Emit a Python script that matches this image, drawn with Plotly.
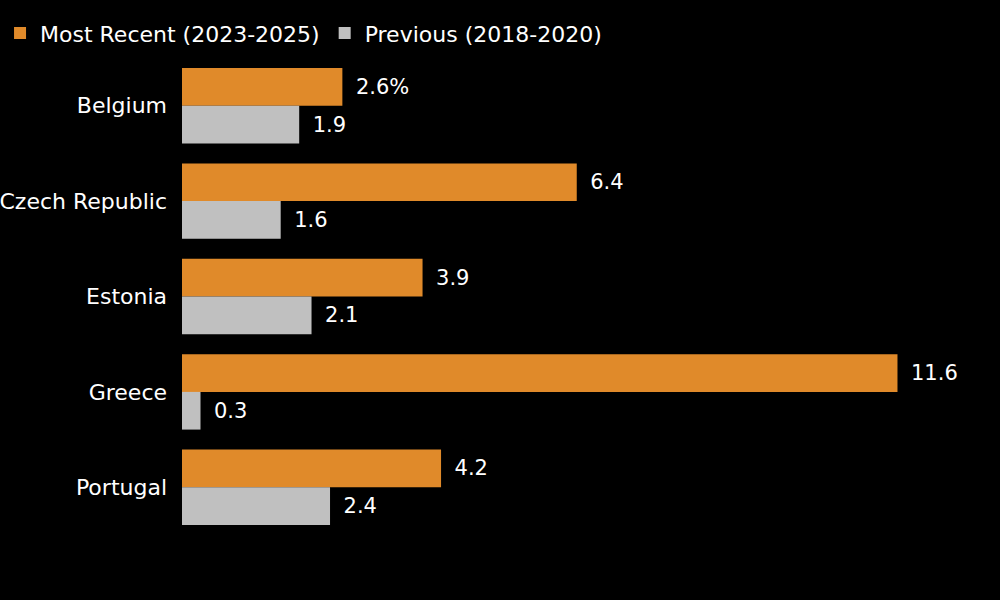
import plotly.graph_objects as go

# -------------------------------
# Data
# -------------------------------
countries = ["Belgium", "Czech Republic", "Estonia", "Greece", "Portugal"]
recent = [2.6, 6.4, 3.9, 11.6, 4.2]
previous = [1.9, 1.6, 2.1, 0.3, 2.4]

ORANGE = "#e08a2a"
GRAY = "#c0c0c0"
FONT = "DejaVu Sans"

recent_text = [f"{v}%" if i == 0 else f"{v}" for i, v in enumerate(recent)]
previous_text = [f"{v}" for v in previous]

# -------------------------------
# Bars
# -------------------------------
fig = go.Figure()
for name, vals, labels, color in [
    ("Most Recent (2023-2025)", recent, recent_text, ORANGE),
    ("Previous (2018-2020)", previous, previous_text, GRAY),
]:
    fig.add_trace(go.Bar(
        y=countries, x=vals, orientation="h",
        name=name,
        marker=dict(color=color, line=dict(width=0)),
        text=labels, texttemplate="\u2002%{text}", textposition="outside",
        textfont=dict(color="white", size=21, family=FONT),
        cliponaxis=False,
    ))

# -------------------------------
# Layout
# -------------------------------
fig.update_layout(
    width=1000, height=600,
    barmode="group",
    bargap=0.21, bargroupgap=0,
    paper_bgcolor="black", plot_bgcolor="black",
    font=dict(family=FONT, color="white", size=21),
    margin=dict(l=182, r=10, t=58, b=65, autoexpand=False),
    legend=dict(
        orientation="h", x=-0.2252, y=1.052, xanchor="left", yanchor="middle",
        font=dict(size=22, color="white", family=FONT),
        bgcolor="rgba(0,0,0,0)", traceorder="normal",
    ),
    xaxis=dict(range=[0, 13.1], visible=False, showgrid=False, zeroline=False),
    yaxis=dict(
        autorange="reversed", showgrid=False, zeroline=False, showline=False,
        automargin=False,
        ticks="", ticksuffix="  ", tickfont=dict(size=22, color="white", family=FONT),
    ),
)

fig.write_html(
    "out.html",
    config={"displayModeBar": False},
    post_script="document.body.style.margin='0';document.body.style.background='black';",
)
